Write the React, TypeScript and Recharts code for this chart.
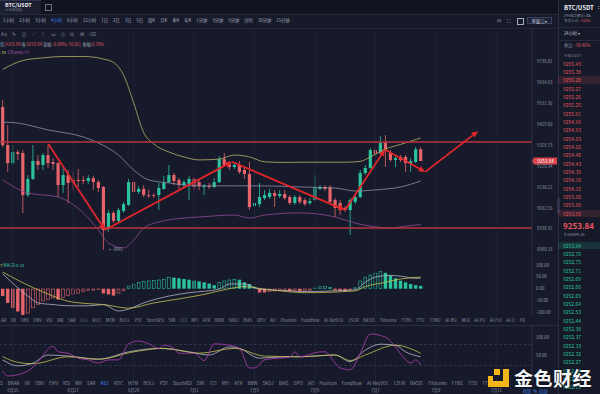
import React from 'react';
import { ComposedChart, Bar, Line, XAxis, YAxis, ReferenceLine, ReferenceDot } from 'recharts';

const FONT = '"Noto Sans CJK SC","Noto Sans",sans-serif';
const BG = '#161a2b';
const UP = '#2bc29c';
const DOWN = '#e8646b';
const LEVEL = '#b8343f';
const ARROW = '#e3262b';
const GRID = '#1f2337';
const AXIS = '#2a2e42';
const LABEL = '#9297aa';

// ---- candles (4h BTC/USDT) ----
const candleOpen = [9514,9330,9244,9296,9292,9093,9169,9254,9235,9282,9249,9244,9140,9187,9164,9164,9164,9159,9173,9154,9131,8940,9010,8973,9019,9047,9154,9108,9122,9093,9093,9093,9122,9154,9187,9164,9140,9145,9169,9154,9131,9136,9131,9154,9263,9240,9225,9235,9211,9192,9042,9051,9079,9084,9103,9089,9098,9084,9056,9084,9070,9056,9070,9122,9131,9131,9070,9056,9033,9023,9061,9084,9197,9221,9306,9292,9340,9292,9259,9273,9273,9240,9249,9309.86];
const candleHigh = [9549,9427,9330,9306,9306,9187,9330,9282,9292,9330,9268,9249,9225,9211,9202,9216,9183,9187,9183,9164,9136,9023,9019,9033,9061,9169,9164,9136,9140,9117,9103,9150,9183,9235,9197,9173,9164,9183,9178,9164,9145,9150,9173,9278,9292,9254,9249,9254,9221,9249,9070,9150,9117,9122,9117,9117,9117,9093,9093,9093,9079,9079,9187,9140,9140,9140,9079,9070,9042,9079,9093,9211,9235,9316,9316,9373,9378,9306,9282,9282,9282,9268,9321,9319];
const candleLow = [9321,9202,9235,9259,9010,9084,9164,9211,9211,9221,9211,9084,9103,9056,9117,9131,9145,9145,9117,9108,8841,8922,8963,8963,9010,9042,9098,9098,9084,9079,9079,9023,9117,9150,9140,9117,9126,9070,9117,9117,9093,9122,9126,9150,9225,9211,9216,9192,9169,9023,8940,9037,9070,9075,9037,9079,9070,9047,9047,9051,9042,9047,9065,9117,9112,9056,8991,9000,9014,8908,9051,9079,9187,9216,9278,9282,9225,9249,9225,9249,9202,9202,9244,9253.84];
const candleClose = [9330,9244,9296,9287,9093,9169,9254,9235,9282,9244,9240,9140,9187,9150,9154,9159,9159,9173,9154,9126,8931,9010,8973,9023,9051,9154,9108,9122,9093,9089,9089,9126,9150,9187,9159,9140,9154,9169,9131,9136,9136,9131,9154,9263,9235,9225,9235,9202,9192,9037,9056,9084,9093,9103,9089,9098,9079,9056,9084,9061,9051,9065,9131,9131,9122,9061,9033,9023,9023,9070,9084,9197,9221,9306,9287,9340,9306,9259,9268,9259,9244,9254,9309.86,9253.84];

// ---- Bollinger bands [candle index, value] ----
const upperBand = [[0,9700],[4,9745],[8,9758],[12,9765],[16,9765],[20,9752],[22,9735],[24,9672],[26,9535],[28,9390],[30,9335],[33,9297],[36,9273],[39,9259],[43,9263],[46,9282],[49,9273],[52,9250],[56,9247],[60,9248],[64,9248],[68,9248],[71,9252],[73,9273],[76,9311],[79,9333],[83,9364]];
const middleBand = [[0,9441],[3,9436],[9,9403],[16,9369],[19,9340],[23,9282],[26,9211],[29,9164],[33,9150],[36,9140],[39,9136],[46,9136],[52,9136],[59,9131],[66,9126],[70,9112],[74,9117],[79,9131],[83,9159]];
const lowerBand = [[0,9164],[5,9103],[11,9084],[16,9010],[19,8931],[21,8872],[24,8849],[26,8885],[28,8940],[31,8968],[36,8986],[39,8991],[46,9000],[49,8986],[52,9000],[59,9010],[66,8991],[70,8963],[73,8949],[77,8940],[80,8949],[83,8956]];

// ---- support / resistance and drawn arrows ----
const resistance = 9345;
const support = 8940;
const lastPrice = 9253.84;
const swingLow = 8841;
const arrowPath = [[9.06,9335],[20.3,8931],[45.5,9250],[68,9023],[75.9,9309],[83.9,9202],[94.4,9397]];

// ---- MACD ----
const macdHist = [-31,-60,-82,-96,-111,-104,-82,-67,-53,-46,-40,-46,-38,-31,-24,-20,-14,-9,-7,-4,-20,-24,-29,-20,-9,12,20,27,31,34,36,38,41,49,47,44,41,38,34,31,27,22,15,27,34,38,41,38,27,20,9,-16,-16,-13,-11,-10,-9,-11,-9,-10,-9,-7,4,9,10,6,-6,-8,-9,-6,5,34,50,59,67,73,67,56,44,34,27,20,15,12];
const macdDif = [[0,63],[5,-31],[7,-60],[10,-67],[13,-72],[17,-72],[20,-67],[23,-94],[25,-86],[28,-60],[33,-31],[37,-17],[43,-2],[45,20],[48,20],[50,5],[51,-2],[57,-9],[60,-12],[66,-9],[70,-5],[72,27],[74,49],[77,56],[79,53],[82,44],[83,44]];
const macdDea = [[0,70],[6,5],[10,-31],[13,-53],[17,-63],[20,-67],[25,-82],[30,-60],[35,-43],[40,-24],[45,0],[48,9],[51,1],[57,-13],[60,-17],[70,-9],[72,9],[76,27],[79,41],[83,49]];

// ---- KDJ ----
const kdjK = [[0,36],[3,19],[6,27],[9,50],[13,47],[19,38],[25,59],[31,69],[37,59],[41,50],[45,73],[47,69],[51,41],[56,45],[59,45],[66,50],[69,31],[72,64],[75,81],[78,78],[80,59],[83,45]];
const kdjD = [[0,45],[3,29],[6,25],[13,45],[19,38],[26,59],[32,69],[39,55],[46,69],[52,47],[59,45],[66,50],[69,34],[72,50],[78,78],[83,55]];
const kdjJ = [[0,4],[1,-10],[5,4],[7,31],[10,75],[11,59],[13,55],[15,41],[17,36],[19,27],[21,36],[23,36],[25,82],[27,90],[29,82],[31,69],[32,78],[34,69],[35,55],[38,55],[40,34],[42,82],[45,78],[47,69],[49,13],[50,13],[52,36],[55,41],[57,44],[58,59],[59,45],[63,59],[64,59],[66,27],[67,13],[69,8],[71,55],[73,110],[76,101],[78,73],[80,36],[81,27],[82,36],[83,22]];

// ---- axes ----
const priceTicks = [9738.81,9634.63,9531.56,9429.60,9328.73,9228.94,9130.22,9032.55,8938.92,8840.33];
const macdTicks = [100,50,0,-50,-100];
const kdjTicks = [100,50];
const kdjLevels = [80,20];
const dateTicks = [2,14,26,38,50,62,74,86,98];
const dateLabels = ['6月25','6月27','6月29','7月1','7月3','7月5','7月7','7月9','7月11'];

// ---- UI text ----
const intervals = ['1小时','2小时','3小时','4小时','6小时','12小时','1日','2日','3日','5日','周K','月K','季K','年K','1分钟','3分钟','5分钟','分时','10分钟','15分钟'];
const toolIcons = ['Aa','✎','⊘','⟋','⌇','∞','⎙','⧉','⊞','⌫'];
const indicatorsTop = ['AR','VR','OBV','EMV','RSI','WR','SAR','KDJ','ROC','MTM','BOLL','PSY','StochRSI','SMI','CCI','MFI','ATR','BBW','SKDJ','BIAS','DPO','AO','Position','Fundflow','AI-NetVOL','LSUR','BASIS','TVolume','FTBS','TTSI','TTMU','AI-BSI','MLR','AI-PO','AI-FOI','AI-LI','FR'];
const indicatorsBottom = ['S','BRAR','VR','OBV','EMV','RSI','WR','SAR','KDJ','ROC','MTM','BOLL','PSY','StochRSI','SMI','CCI','MFI','ATR','BBW','SKDJ','BIAS','DPO','AO','Position','Fundflow','AI-NetVOL','LSUR','BASIS','TVolume','FTBS','TTSI','TT'];
const asks = ['9255.43','9255.38','9255.28','9255.27','9255.26','9255.25','9255.01','9254.99','9254.93','9254.83','9254.82','9254.46','9254.43','9254.35','9254.16','9254.15','9253.92','9253.88','9253.85'];
const bids = ['9253.84','9252.76','9252.75','9252.71','9252.69','9252.66','9252.65','9252.64','9252.53','9252.44','9252.38','9252.37','9252.33','9252.32','9252.27','9252.24','9252.19','9252.15'];

const xDomain = [-0.536, 105.1];

const data: any[] = candleOpen.map((o, i) => ({
  i, o, h: candleHigh[i], l: candleLow[i], c: candleClose[i],
  range: [candleLow[i], candleHigh[i]],
  hist: macdHist[i],
  hollow: i > 0 && macdHist[i] > macdHist[i - 1],
  ub: null, mb: null, lb: null, dif: null, dea: null, k: null, d: null, j: null,
}));
const place = (pairs: number[][], key: string) => pairs.forEach(([i, v]) => { data[i][key] = v; });
place(upperBand, 'ub'); place(middleBand, 'mb'); place(lowerBand, 'lb');
place(macdDif, 'dif'); place(macdDea, 'dea');
place(kdjK, 'k'); place(kdjD, 'd'); place(kdjJ, 'j');

const Candle = (props: any) => {
  const { x, y, width, height, payload } = props;
  if (!payload || height == null) return null;
  const { o, h, l, c } = payload;
  const span = Math.log(h) - Math.log(l) || 1;
  const py = (p: number) => y + height * (Math.log(h) - Math.log(p)) / span;
  const color = c >= o ? UP : DOWN;
  const cx = x + width / 2;
  const top = py(Math.max(o, c));
  const bot = py(Math.min(o, c));
  return (
    <g>
      <line x1={cx} x2={cx} y1={y} y2={y + height} stroke={color} strokeWidth={0.8} />
      <rect x={cx - 1.6} y={top} width={3.2} height={Math.max(bot - top, 0.8)} fill={color} />
    </g>
  );
};

const MacdBar = (props: any) => {
  const { x, y, width, height, payload } = props;
  if (!payload) return null;
  const color = payload.hist >= 0 ? UP : DOWN;
  const top = Math.min(y, y + height);
  const h = Math.max(Math.abs(height), 0.6);
  const cx = x + width / 2;
  if (payload.hollow) {
    return <rect x={cx - 1.4} y={top + 0.3} width={2.8} height={Math.max(h - 0.6, 0.4)} fill="none" stroke={color} strokeWidth={0.6} />;
  }
  return <rect x={cx - 1.7} y={top} width={3.4} height={h} fill={color} />;
};

const arrowShape = (props: any) => {
  const { x1, y1, x2, y2 } = props;
  const ang = Math.atan2(y2 - y1, x2 - x1);
  const L = 6.5, W = 3;
  const bx = x2 - L * Math.cos(ang), by = y2 - L * Math.sin(ang);
  const px = -Math.sin(ang) * W, py = Math.cos(ang) * W;
  return (
    <g>
      <line x1={x1} y1={y1} x2={bx} y2={by} stroke={ARROW} strokeWidth={1.8} />
      <polygon points={`${x2},${y2} ${bx + px},${by + py} ${bx - px},${by - py}`} fill={ARROW} />
    </g>
  );
};

const priceTag = (props: any) => {
  const vb = props.viewBox || {};
  const x = (vb.x || 0) + (vb.width || 0) + 1;
  const y = vb.y || 0;
  return (
    <g>
      <polygon points={`${x - 1.5},${y} ${x + 1},${y - 3.5} ${x + 1},${y + 3.5}`} fill="#d9454e" />
      <rect x={x + 1} y={y - 3.5} width={23} height={7} fill="#d9454e" />
      <text x={x + 12.5} y={y + 1.6} fill="#ffffff" fontSize={4.6} textAnchor="middle" fontFamily={FONT}>{lastPrice.toFixed(2)}</text>
    </g>
  );
};

const Txt = ({ x, y, s = 4.2, c = LABEL, children, bold, style }: any) => (
  <div style={{ position: 'absolute', left: x, top: y - s / 2 - 0.5, fontSize: s, lineHeight: `${s + 1}px`, color: c, whiteSpace: 'nowrap', fontWeight: bold ? 700 : 400, ...style }}>{children}</div>
);

const Box = ({ x, y, w, h, bg, style }: any) => (
  <div style={{ position: 'absolute', left: x, top: y, width: w, height: h, background: bg, ...style }} />
);

const gridLines = dateTicks.map((t) => <ReferenceLine key={'g' + t} x={t} stroke={GRID} strokeWidth={1} />);

const axisTick = { fill: LABEL, fontSize: 4.3, fontFamily: FONT };

export default function App() {
  return (
    <div style={{ position: 'absolute', left: 0, top: 0, width: 600, height: 394, overflow: 'hidden', background: BG, fontFamily: FONT }}>
      {/* header strips */}
      <Box x={0} y={0} w={558} h={14} bg="#11141f" />
      <Box x={0} y={0} w={41} h={14} bg="#1b1f30" style={{ borderTop: '1px solid #2d3350' }} />
      <Txt x={5} y={5} s={5.4} c="#e8eaf2" bold>BTC/USDT</Txt>
      <Txt x={5} y={10.5} s={3.4} c="#7d8296">火币全球站</Txt>
      <Box x={45} y={4} w={5} h={5} bg="transparent" style={{ border: '0.7px solid #6b7088' }} />
      <Box x={0} y={14} w={558} h={0.6} bg="#252a3d" />

      {/* interval row */}
      <div style={{ position: 'absolute', left: 3, top: 18.3, display: 'flex', gap: 5.0, fontSize: 4.3, lineHeight: '5px', whiteSpace: 'nowrap' }}>
        {intervals.map((t, k) => (
          <span key={t} style={{ color: k === 3 ? '#3d86f0' : '#a6abbd' }}>{t}</span>
        ))}
      </div>
      <Txt x={497} y={20.5} s={4.2} c="#a6abbd">0s</Txt>
      <Txt x={507} y={20.5} s={5} c="#a6abbd">⛶</Txt>
      <Box x={517} y={18.3} w={4.5} h={4.5} bg="transparent" style={{ border: '0.7px solid #a6abbd' }} />
      <div style={{ position: 'absolute', left: 527, top: 17, width: 25, height: 7, border: '0.7px solid #3a4060', background: '#1c2136', boxSizing: 'border-box', fontSize: 4.3, lineHeight: '6px', color: '#c6cadb', textAlign: 'center' }}>单窗口 ▾</div>
      <Box x={0} y={28} w={558} h={0.6} bg="#232739" />

      {/* main price chart */}
      <div style={{ position: 'absolute', left: 0, top: 28 }}>
        <ComposedChart width={558} height={227} data={data} margin={{ top: 0, right: 0, bottom: 0, left: 0 }}>
          <XAxis type="number" dataKey="i" domain={xDomain} allowDataOverflow hide />
          <YAxis orientation="right" scale="log" domain={[8817, 9909]} allowDataOverflow ticks={priceTicks} interval={0}
            tickFormatter={(v: number) => v.toFixed(2)} tick={axisTick} tickLine={false} tickSize={3} tickMargin={2}
            axisLine={{ stroke: AXIS }} width={26} />
          {gridLines}
          <Line dataKey="ub" type="monotone" stroke="#b9b36b" strokeWidth={0.8} dot={false} connectNulls isAnimationActive={false} />
          <Line dataKey="mb" type="monotone" stroke="#8d91a8" strokeWidth={0.8} dot={false} connectNulls isAnimationActive={false} />
          <Line dataKey="lb" type="monotone" stroke="#8f4a92" strokeWidth={0.8} dot={false} connectNulls isAnimationActive={false} />
          <Bar dataKey="range" barSize={3} shape={Candle} isAnimationActive={false} />
          <ReferenceLine y={resistance} stroke={LEVEL} strokeWidth={1.5} />
          <ReferenceLine y={support} stroke={LEVEL} strokeWidth={1.5} />
          {arrowPath.slice(1).map((p, k) => (
            <ReferenceLine key={'a' + k} segment={[{ x: arrowPath[k][0], y: arrowPath[k][1] }, { x: p[0], y: p[1] }]} shape={arrowShape} />
          ))}
          <ReferenceLine y={lastPrice} stroke="none" label={priceTag} />
          <ReferenceDot x={20} y={swingLow} r={0} fill="none" stroke="none"
            label={{ value: '← ' + swingLow, position: 'right', fill: '#9aa0b4', fontSize: 4.2, fontFamily: FONT }} />
        </ComposedChart>
      </div>

      {/* overlay toolbar + info */}
      <div style={{ position: 'absolute', left: 1, top: 31, display: 'flex', gap: 5.2, fontSize: 5, lineHeight: '6px', color: '#7f8498', whiteSpace: 'nowrap' }}>
        {toolIcons.map((t, k) => <span key={k}>{t}</span>)}
      </div>
      <div style={{ position: 'absolute', left: 0, top: 41.5, fontSize: 4.2, lineHeight: '5px', whiteSpace: 'nowrap', color: '#9aa0b4' }}>
        低:<span style={{ color: '#e05a62' }}>9253.84</span>&nbsp;收:<span style={{ color: '#e05a62' }}>9253.84</span>&nbsp;涨幅:<span style={{ color: '#e05a62' }}>-0.60%(-56.02)</span>&nbsp;&nbsp;振幅:<span style={{ color: '#e05a62' }}>0.70%</span>
      </div>
      <div style={{ position: 'absolute', left: 0, top: 49.8, fontSize: 4.2, lineHeight: '5px', whiteSpace: 'nowrap' }}>
        <span style={{ color: '#d8cf5e' }}>.74</span>&nbsp;&nbsp;<span style={{ color: '#b25ab8' }}>LB:8958.77</span>
      </div>

      {/* MACD panel */}
      <div style={{ position: 'absolute', left: 0, top: 256 }}>
        <ComposedChart width={558} height={61} data={data} margin={{ top: 0, right: 0, bottom: 0, left: 0 }}>
          <XAxis type="number" dataKey="i" domain={xDomain} allowDataOverflow hide />
          <YAxis orientation="right" domain={[-119.4, 138]} allowDataOverflow ticks={macdTicks} interval={0}
            tickFormatter={(v: number) => v.toFixed(2)} tick={axisTick} tickLine={false} tickSize={2} tickMargin={2}
            axisLine={{ stroke: AXIS }} width={26} />
          {gridLines}
          <Bar dataKey="hist" barSize={3} shape={MacdBar} isAnimationActive={false} />
          <Line dataKey="dif" type="monotone" stroke="#aeb2c6" strokeWidth={0.8} dot={false} connectNulls isAnimationActive={false} />
          <Line dataKey="dea" type="monotone" stroke="#c9c152" strokeWidth={0.8} dot={false} connectNulls isAnimationActive={false} />
        </ComposedChart>
      </div>
      <div style={{ position: 'absolute', left: 0, top: 262.5, fontSize: 4.2, lineHeight: '5px', whiteSpace: 'nowrap' }}>
        <span style={{ color: '#d8cf5e' }}>7</span>&nbsp;<span style={{ color: '#3cc8a0' }}>MACD:8.34</span>
      </div>

      {/* indicator tabs row 1 */}
      <div style={{ position: 'absolute', left: 1, top: 318.2, display: 'flex', gap: 4.6, fontSize: 4.2, lineHeight: '5px', whiteSpace: 'nowrap', color: '#8a8fa3' }}>
        {indicatorsTop.map((t) => <span key={t} style={{ color: t === 'KDJ' ? '#565b72' : '#8a8fa3' }}>{t}</span>)}
      </div>
      <Box x={0} y={325} w={558} h={0.7} bg="#2a2e42" />

      {/* KDJ panel */}
      <div style={{ position: 'absolute', left: 0, top: 326 }}>
        <ComposedChart width={558} height={68} data={data} margin={{ top: 0, right: 0, bottom: 0, left: 0 }}>
          <XAxis type="number" dataKey="i" domain={xDomain} allowDataOverflow ticks={dateTicks} interval={0}
            axisLine={false} tickLine={false} tickSize={0} tickMargin={0} height={13}
            tick={(p: any) => (
              <text x={p.x} y={p.y + 11.4} fill={LABEL} fontSize={4.2} textAnchor="middle" fontFamily={FONT}>
                {dateLabels[dateTicks.indexOf(p.payload.value)]}
              </text>
            )} />
          <YAxis orientation="right" domain={[-24.3, 132.9]} allowDataOverflow ticks={kdjTicks} interval={0}
            tickFormatter={(v: number) => v.toFixed(2)} tick={axisTick} tickLine={false} tickSize={2} tickMargin={2}
            axisLine={{ stroke: AXIS }} width={26} />
          {gridLines}
          {kdjLevels.map((v) => <ReferenceLine key={'lv' + v} y={v} stroke="#3b3f55" strokeDasharray="3 2" strokeWidth={0.7} />)}
          <Line dataKey="k" type="monotone" stroke="#b4b8cc" strokeWidth={0.8} dot={false} connectNulls isAnimationActive={false} />
          <Line dataKey="d" type="monotone" stroke="#c9c152" strokeWidth={0.8} dot={false} connectNulls isAnimationActive={false} />
          <Line dataKey="j" type="monotone" stroke="#b43fb4" strokeWidth={0.8} dot={false} connectNulls isAnimationActive={false} />
        </ComposedChart>
      </div>

      {/* indicator tabs row 2 */}
      <div style={{ position: 'absolute', left: 0, top: 380.8, display: 'flex', gap: 5.0, fontSize: 4.6, lineHeight: '5px', whiteSpace: 'nowrap', color: '#8a8fa3' }}>
        {indicatorsBottom.map((t) => <span key={t} style={{ color: t === 'KDJ' ? '#3d86f0' : '#8a8fa3' }}>{t}</span>)}
      </div>

      {/* right panel */}
      <Box x={557.5} y={0} w={42.5} h={394} bg="#151928" style={{ borderLeft: '0.7px solid #2a2e42' }} />
      <Box x={557} y={198} w={2.5} h={15} bg="#2e3349" />
      <Txt x={564} y={7} s={6} c="#eef0f6" bold>BTC/USDT</Txt>
      <Txt x={598} y={7} s={5} c="#eef0f6">:</Txt>
      <Txt x={564} y={16} s={3.4} c="#8a8fa3">24H成交额(¥): <span style={{ color: '#c6cadb' }}>15.</span></Txt>
      <Txt x={564} y={21.5} s={3.4} c="#8a8fa3">净流入(¥): <span style={{ color: '#e05a62' }}>-4,010.</span></Txt>
      <Box x={558} y={27} w={42} h={0.6} bg="#262a3c" />
      <Txt x={564} y={34} s={4.2} c="#c6cadb">24小时 ▾</Txt>
      <Box x={558} y={40} w={42} h={0.6} bg="#262a3c" />
      <Txt x={564} y={46} s={4.2} c="#8a8fa3">委比: <span style={{ color: '#e05a62' }}>-50.40%</span></Txt>
      <Txt x={564} y={56.5} s={3.4} c="#7d8296">价格(USDT)</Txt>
      <div style={{ position: 'absolute', left: 558, top: 61, width: 42, height: 157, overflow: 'hidden' }}>
        {asks.map((p, k) => (
          <div key={p} style={{ position: 'absolute', left: 0, top: 63.3 + k * 8.33 - 61 - 3.6, width: 42, height: 7.2, background: (k === 2 || k === 18) ? 'rgba(224,85,93,0.16)' : 'transparent', fontSize: 5, lineHeight: '7.2px', color: '#e0555d', paddingLeft: 5 }}>{p}</div>
        ))}
      </div>
      <Txt x={563} y={225.7} s={8} c="#f0565e" bold>9253.84</Txt>
      <Txt x={564} y={234.3} s={4.2} c="#8a8fa3">¥ 64499.26</Txt>
      {bids.map((p, k) => (
        <div key={p} style={{ position: 'absolute', left: 558, top: 245.3 + k * 8.33 - 3.6, width: 42, height: 7.2, background: k === 0 ? 'rgba(43,194,156,0.16)' : 'transparent', fontSize: 5, lineHeight: '7.2px', color: '#2bc29c', paddingLeft: 5 }}>{p}</div>
      ))}

      {/* bottom right */}
      <Txt x={523} y={392} s={4.2} c="#3d86f0">时区&nbsp;&nbsp;%&nbsp;&nbsp;自动</Txt>
      <Box x={494} y={369} w={6} h={6} bg="#f3b518" />
      <Box x={503} y={369} w={6} h={18} bg="#f3b518" />
      <Box x={488} y={381} w={21} h={6} bg="#f3b518" />
      <Box x={488} y={376} w={5} h={11} bg="#f3b518" />
      <Txt x={514} y={378} s={19} c="#f4f5f8" bold style={{ letterSpacing: 0.5, textShadow: '0 0 2px #000' }}>金色财经</Txt>
    </div>
  );
}
